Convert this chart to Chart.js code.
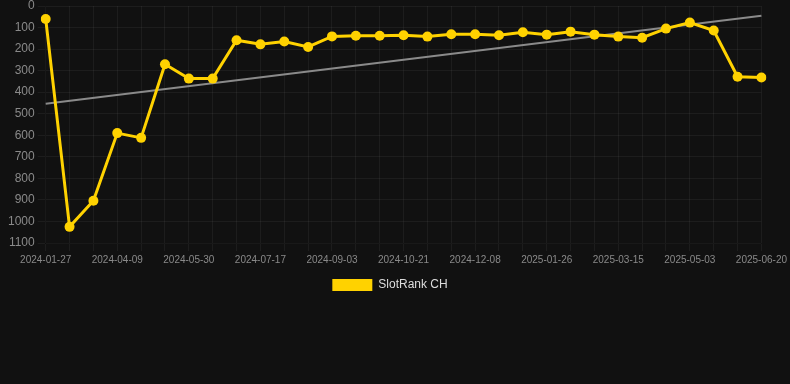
<!DOCTYPE html>
<html>
<head>
<meta charset="utf-8">
<script src="https://cdn.jsdelivr.net/npm/chart.js@4/dist/chart.umd.min.js"></script>
<style>
  html, body { margin: 0; padding: 0; background: #111111; }
  #wrap { width: 790px; height: 301px; position: relative; }
</style>
</head>
<body>
<div id="wrap"><canvas id="rankChart"></canvas></div>
<script>
// datas das medições (eixo x)
const dates = [
  '2024-01-27', '2024-02-20', '2024-03-16', '2024-04-09', '2024-04-26', '2024-05-13',
  '2024-05-30', '2024-06-15', '2024-07-01', '2024-07-17', '2024-08-02', '2024-08-18',
  '2024-09-03', '2024-09-19', '2024-10-05', '2024-10-21', '2024-11-06', '2024-11-22',
  '2024-12-08', '2024-12-24', '2025-01-10', '2025-01-26', '2025-02-11', '2025-02-27',
  '2025-03-15', '2025-03-31', '2025-04-17', '2025-05-03', '2025-05-19', '2025-06-04',
  '2025-06-20'
];

// posição no ranking
const rankCH = [
  60, 1025, 904, 590, 612, 270, 337, 337, 159, 178, 165, 190,
  141, 138, 138, 136, 142, 131, 131, 136, 122, 133, 119, 133,
  142, 147, 105, 77, 114, 328, 332
];

// linha de tendência: só início e fim
const trendStart = 454;
const trendEnd = 45;

const yTicks = [0, 100, 200, 300, 400, 500, 600, 700, 800, 900, 1000, 1100];

const trend = dates.map((d, i) => i === 0 ? trendStart : (i === dates.length - 1 ? trendEnd : null));

const FONT = '"Liberation Sans", Arial, sans-serif';

new Chart(document.getElementById('rankChart').getContext('2d'), {
  type: 'line',
  data: {
    labels: dates,
    datasets: [
      {
        label: 'SlotRank CH',
        data: rankCH,
        borderColor: '#FFD200',
        backgroundColor: '#FFD200',
        borderWidth: 3,
        pointRadius: 5,
        pointBorderWidth: 0,
        pointHoverRadius: 5,
        tension: 0
      },
      {
        label: 'trend',
        data: trend,
        borderColor: '#8a8a8a',
        borderWidth: 2,
        pointRadius: 0,
        spanGaps: true
      }
    ]
  },
  options: {
    responsive: true,
    maintainAspectRatio: false,
    animation: false,
    layout: { padding: { top: 0, right: 10, left: 0, bottom: 0 } },
    plugins: {
      legend: {
        position: 'bottom',
        labels: {
          color: '#dddddd',
          font: { family: FONT, size: 12 },
          boxWidth: 40,
          boxHeight: 12,
          filter: item => item.text !== 'trend',
          generateLabels: chart => Chart.defaults.plugins.legend.labels.generateLabels(chart)
            .map(it => Object.assign(it, { lineWidth: 0 }))
        }
      },
      tooltip: { enabled: false }
    },
    scales: {
      x: {
        grid: { color: 'rgba(255,255,255,0.05)' },
        ticks: {
          color: '#8a8a8a',
          font: { family: FONT, size: 10 },
          maxRotation: 0,
          autoSkip: false,
          callback: function (v, i) { return i % 3 === 0 ? dates[i] : ''; }
        }
      },
      y: {
        reverse: true,
        min: 0,
        max: 1100,
        afterBuildTicks: axis => { axis.ticks = yTicks.map(v => ({ value: v })); },
        afterFit: axis => { axis.paddingTop = 6; axis.width += 5; },
        grid: { color: 'rgba(255,255,255,0.05)' },
        ticks: {
          color: '#8a8a8a',
          font: { family: FONT, size: 12 },
          callback: v => String(v)
        }
      }
    }
  }
});
</script>
</body>
</html>
